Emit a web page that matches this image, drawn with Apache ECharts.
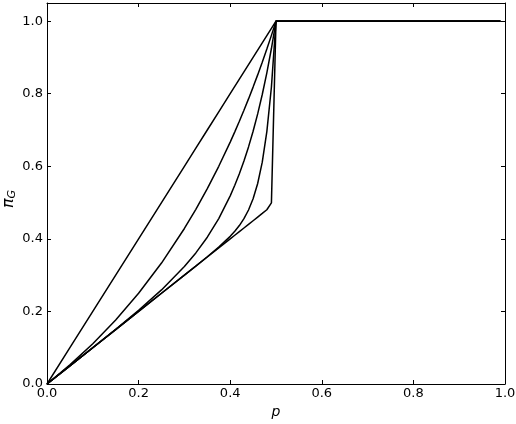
<!DOCTYPE html>
<html>
<head>
<meta charset="utf-8">
<script src="https://cdn.jsdelivr.net/npm/echarts@6/dist/echarts.min.js"></script>
<style>html,body{margin:0;padding:0;background:#fff}#c{width:516px;height:424px}</style>
</head>
<body>
<div id="c"></div>
<script>
// Sample positions along p
const pValues = [0, 0.05, 0.1, 0.15, 0.2, 0.25, 0.3, 0.325, 0.35, 0.375, 0.4, 0.41, 0.42, 0.43, 0.44, 0.45, 0.46, 0.47, 0.48, 0.49, 0.5, 0.99];
// Curves (top-left to bottom-right)
const curveA = [0, 0.1, 0.2, 0.3, 0.4, 0.5, 0.6, 0.65, 0.7, 0.75, 0.8, 0.82, 0.84, 0.86, 0.88, 0.9, 0.92, 0.94, 0.96, 0.98, 1, 1];
const curveB = [0, 0.0526, 0.1111, 0.1765, 0.25, 0.3333, 0.4286, 0.4815, 0.5385, 0.6, 0.6667, 0.6949, 0.7241, 0.7544, 0.7857, 0.8182, 0.8519, 0.8868, 0.9231, 0.9608, 1, 1];
const curveC = [0, 0.05, 0.1001, 0.1508, 0.2031, 0.2593, 0.3236, 0.3613, 0.4046, 0.456, 0.5185, 0.5476, 0.5795, 0.6146, 0.6534, 0.6965, 0.7444, 0.7978, 0.8575, 0.9246, 1, 1];
const curveD = [0, 0.05, 0.1, 0.15, 0.2, 0.25, 0.3001, 0.3252, 0.3507, 0.3773, 0.4069, 0.4208, 0.4367, 0.4557, 0.4795, 0.5105, 0.5526, 0.6114, 0.6956, 0.8184, 1, 1];
const curveE = [0, 0.05, 0.1, 0.15, 0.2, 0.25, 0.3, 0.325, 0.35, 0.375, 0.4, 0.41, 0.42, 0.43, 0.44, 0.45, 0.46, 0.47, 0.4802, 0.499, 1, 1];
const xTicks = [0, 0.2, 0.4, 0.6, 0.8, 1.0];
const yTicks = [0, 0.2, 0.4, 0.6, 0.8, 1.0];

const curves = [curveA, curveB, curveC, curveD, curveE];
const FONT = 'DejaVu Sans';

const chart = echarts.init(document.getElementById('c'), null, {renderer: 'canvas'});
const axisCommon = {
  axisLine: {show: true, onZero: false, lineStyle: {color: '#000', width: 1}},
  axisTick: {show: true, inside: true, length: 4, lineStyle: {color: '#000', width: 1}},
  splitLine: {show: false}
};
chart.setOption({
  animation: false,
  backgroundColor: '#fff',
  grid: {left: 47, right: 11, top: 3, bottom: 40, containLabel: false, outerBoundsMode: 'none'},
  graphic: [{
    type: 'text', x: 9, y: 199, rotation: Math.PI / 2, z: 10,
    style: {
      text: '{a|π}{b|G}', align: 'center', verticalAlign: 'middle',
      rich: {
        a: {fontFamily: FONT, fontStyle: 'italic', fontSize: 16, fill: '#000', color: '#000'},
        b: {fontFamily: FONT, fontStyle: 'italic', fontSize: 11, fill: '#000', color: '#000', padding: [7, 0, 0, 0]}
      }
    }
  }],
  xAxis: [
    Object.assign({
      type: 'value', min: xTicks[0], max: xTicks[xTicks.length - 1], interval: 0.2, position: 'bottom',
      name: 'p', nameLocation: 'middle', nameGap: 21,
      nameTextStyle: {fontFamily: FONT, fontStyle: 'italic', fontSize: 14, color: '#000'},
      axisLabel: {fontFamily: FONT, fontSize: 13, color: '#000', margin: 3, formatter: v => v.toFixed(1)}
    }, axisCommon),
    Object.assign({
      type: 'value', min: 0, max: 1, interval: 0.2, position: 'top', axisLabel: {show: false}
    }, axisCommon)
  ],
  yAxis: [
    Object.assign({
      type: 'value', min: yTicks[0], max: 1.05, interval: 0.2, position: 'left',
      axisLabel: {fontFamily: FONT, fontSize: 13, color: '#000', margin: 4, showMaxLabel: false,
        formatter: v => (Math.abs(v * 5 - Math.round(v * 5)) < 1e-6 ? v.toFixed(1) : '')}
    }, axisCommon),
    Object.assign({
      type: 'value', min: 0, max: 1.05, interval: 0.2, position: 'right', axisLabel: {show: false}
    }, axisCommon)
  ],
  series: curves.map((c, k) => ({
    type: 'line',
    xAxisIndex: 0, yAxisIndex: 0,
    data: pValues.map((p, i) => [p, c[i]]),
    showSymbol: false, symbol: 'none',
    lineStyle: {color: '#000', width: 1.5},
    z: 2 + k
  }))
});
</script>
</body>
</html>
